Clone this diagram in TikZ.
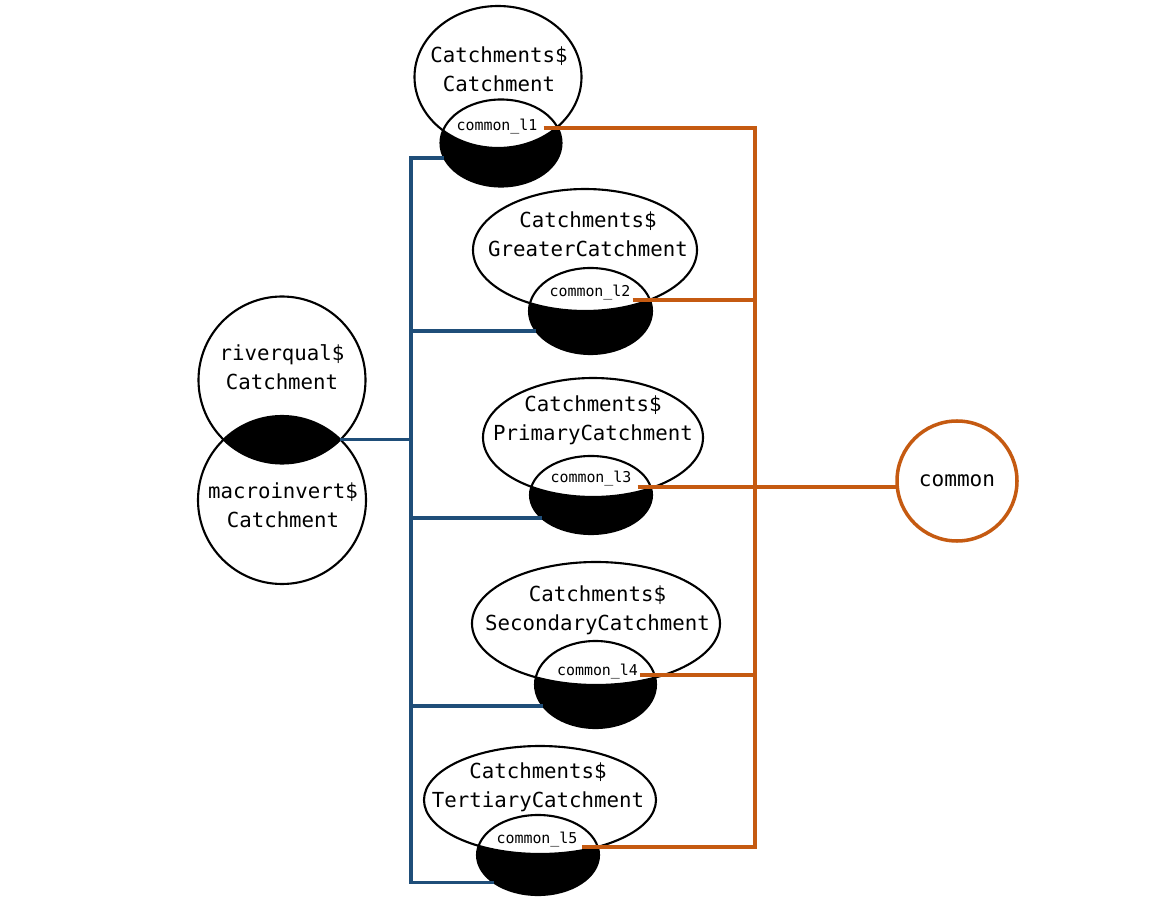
\documentclass[tikz,border=0pt]{standalone}
\usepackage{fontspec}
\newfontfamily\monof{DejaVu Sans Mono}
\usetikzlibrary{shapes.geometric,calc}
\definecolor{busblue}{RGB}{31,78,121}
\definecolor{busorange}{RGB}{197,90,17}
\newcommand{\pxu}{0.02cm}
\tikzset{
  ell/.style={ellipse, draw=black, line width=1.2pt, inner sep=0pt, outer sep=0pt},
  circ/.style={circle, draw=black, line width=1.2pt, inner sep=0pt, outer sep=0pt, minimum size=167*\pxu},
  nametext/.style={font=\monof\fontsize{11.8}{16.4}\selectfont, align=center, inner sep=0pt},
  lbl/.style={font=\monof\fontsize{8.5}{10}\selectfont, inner sep=1pt},
  bus/.style={draw=busblue, line width=2pt},
  obus/.style={draw=busorange, line width=2pt},
}
\begin{document}
\begin{tikzpicture}[x=0.02cm, y=-0.02cm]
\useasboundingbox (0,0) rectangle (1167,915);

% ---------- centers ----------
\coordinate (B1) at (498,77);    \coordinate (S1) at (501,143);
\coordinate (B2) at (585,250);   \coordinate (S2) at (590.5,311);
\coordinate (B3) at (593,437.5); \coordinate (S3) at (591,495);
\coordinate (B4) at (596,623.5); \coordinate (S4) at (595.5,684.5);
\coordinate (B5) at (540,800);   \coordinate (S5) at (538,855);
\coordinate (RQ) at (282,380);   \coordinate (MI) at (282,500);

% ---------- fills ----------
\fill[black] (S1) ellipse [x radius=60.5, y radius=43.5];
\begin{scope}\clip (S1) ellipse [x radius=60.5, y radius=43.5];
  \fill[white] (B1) ellipse [x radius=83.5, y radius=71];\end{scope}
\fill[black] (S2) ellipse [x radius=61.5, y radius=43];
\begin{scope}\clip (S2) ellipse [x radius=61.5, y radius=43];
  \fill[white] (B2) ellipse [x radius=112, y radius=61];\end{scope}
\fill[black] (S3) ellipse [x radius=61, y radius=39];
\begin{scope}\clip (S3) ellipse [x radius=61, y radius=39];
  \fill[white] (B3) ellipse [x radius=110, y radius=59.5];\end{scope}
\fill[black] (S4) ellipse [x radius=60.5, y radius=43.5];
\begin{scope}\clip (S4) ellipse [x radius=60.5, y radius=43.5];
  \fill[white] (B4) ellipse [x radius=124, y radius=61.5];\end{scope}
\fill[black] (S5) ellipse [x radius=61, y radius=40];
\begin{scope}\clip (S5) ellipse [x radius=61, y radius=40];
  \fill[white] (B5) ellipse [x radius=116, y radius=54];\end{scope}
\begin{scope}\clip (RQ) circle [radius=83.5];
  \fill[black] (MI) circle [radius=84];\end{scope}

% ---------- outlines ----------
\node[ell, minimum width=167*\pxu, minimum height=142*\pxu] (b1) at (B1) {};
\node[ell, minimum width=121*\pxu, minimum height=87*\pxu] (s1) at (S1) {};
\node[ell, minimum width=224*\pxu, minimum height=122*\pxu] (b2) at (B2) {};
\node[ell, minimum width=123*\pxu, minimum height=86*\pxu] (s2) at (S2) {};
\node[ell, minimum width=220*\pxu, minimum height=119*\pxu] (b3) at (B3) {};
\node[ell, minimum width=122*\pxu, minimum height=78*\pxu] (s3) at (S3) {};
\node[ell, minimum width=248*\pxu, minimum height=123*\pxu] (b4) at (B4) {};
\node[ell, minimum width=121*\pxu, minimum height=87*\pxu] (s4) at (S4) {};
\node[ell, minimum width=232*\pxu, minimum height=108*\pxu] (b5) at (B5) {};
\node[ell, minimum width=122*\pxu, minimum height=80*\pxu] (s5) at (S5) {};
\node[circ] (rq) at (RQ) {};
\node[circ, minimum size=168*\pxu] (mi) at (MI) {};
\node[circle, draw=busorange, line width=2pt, inner sep=0pt, outer sep=0pt,
      minimum size=120*\pxu, font=\monof\fontsize{12}{14}\selectfont] (common) at (957,481) {common};

% ---------- texts ----------
\node[nametext] (t1) at (499,69.5) {Catchments\$\\Catchment};
\node[nametext] (t2) at (588,234.5) {Catchments\$\\GreaterCatchment};
\node[nametext] (t3) at (593,420) {Catchments\$\\PrimaryCatchment};
\node[nametext] (t4) at (597.5,610) {Catchments\$\\SecondaryCatchment};
\node[nametext] (t5) at (538,787) {Catchments\$\\TertiaryCatchment};
\node[nametext] (tRQ) at (282,367.5) {riverqual\$\\Catchment};
\node[nametext] (tMI) at (283,505) {macroinvert\$\\Catchment};

\node[lbl] (l1) at (497,127) {common\_l1};
\node[lbl] (l2) at (590,292.5) {common\_l2};
\node[lbl] (l3) at (591,479) {common\_l3};
\node[lbl] (l4) at (597.5,672) {common\_l4};
\node[lbl] (l5) at (537,840) {common\_l5};

% ---------- blue bus ----------
\coordinate (bx) at (411,0);
\coordinate (lensR) at (340,439.3);
\draw[bus] (s1.195.9) -- (s1.195.9 -| bx) -- (s5.212.7 -| bx) -- (s5.212.7);
\draw[bus] (s2.200.2 -| bx) -- (s2.200.2);
\draw[bus] (s3.205.0 -| bx) -- (s3.205.0);
\draw[bus] (s4.202.2 -| bx) -- (s4.202.2);
\draw[bus] (lensR -| bx) -- (lensR);

% ---------- orange bus ----------
\coordinate (ox) at (755,0);
\draw[obus] ([xshift=4*\pxu, yshift=-1*\pxu]l1.east) -- ([yshift=-1*\pxu]l1.east -| ox)
   -- ([yshift=-7*\pxu]l5.east -| ox) -- ([xshift=2*\pxu, yshift=-7*\pxu]l5.east);
\draw[obus] ([yshift=-7.5*\pxu]l2.east) -- ([yshift=-7.5*\pxu]l2.east -| ox);
\draw[obus] ([xshift=4*\pxu, yshift=-8*\pxu]l3.east) -- ([yshift=-8*\pxu]l3.east -| common.west);
\draw[obus] ([yshift=-3*\pxu]l4.east) -- ([yshift=-3*\pxu]l4.east -| ox);
\end{tikzpicture}
\end{document}
